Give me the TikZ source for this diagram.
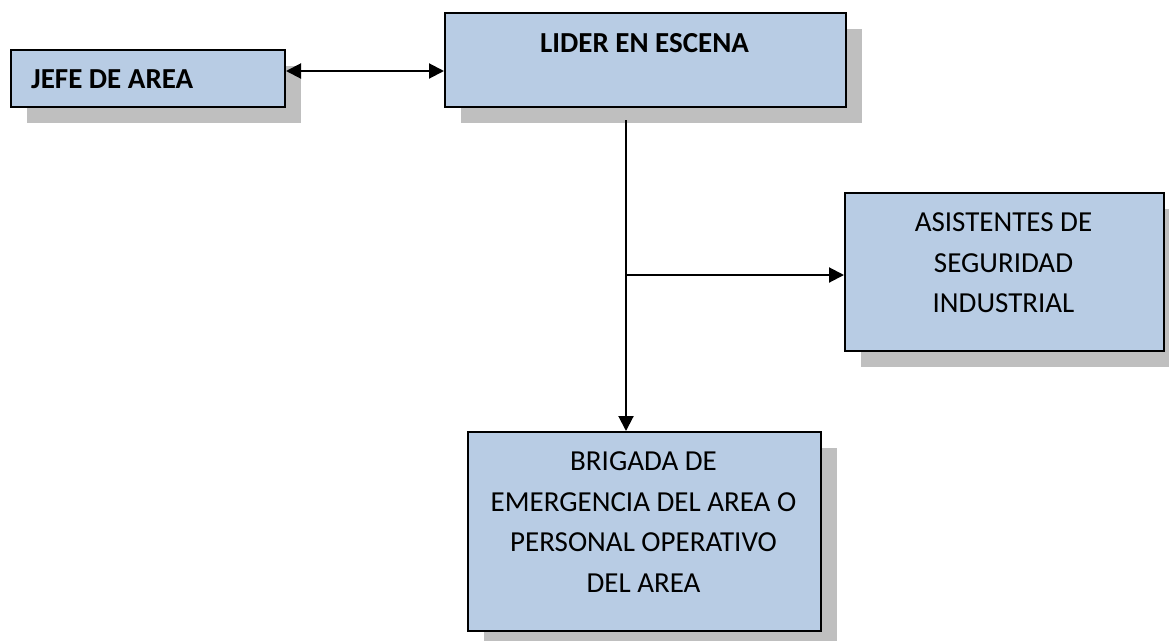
\documentclass[tikz,border=0pt]{standalone}
\usepackage{fontspec}
\setmainfont{Carlito}
\usetikzlibrary{arrows.meta,shadows}
\definecolor{boxblue}{HTML}{B8CCE4}
\definecolor{shadowgray}{HTML}{BFBFBF}
\begin{document}
\begin{tikzpicture}[x=1pt,y=-1pt,
  box/.style={draw=black, line width=2pt, fill=boxblue, inner sep=0pt, anchor=north west,
    drop shadow={shadow xshift=16pt, shadow yshift=-16pt, fill=shadowgray, opacity=1}},
  txt/.style={font=\fontsize{29}{40.5}\selectfont, align=center, inner sep=0pt},
  txtb/.style={font=\fontsize{29}{40.5}\selectfont\bfseries, align=center, inner sep=0pt},
  conn/.style={line width=2pt, -{Triangle[length=15pt,width=15pt]}},
  biconn/.style={line width=2pt, {Triangle[length=15pt,width=15pt]}-{Triangle[length=15pt,width=15pt]}},
]
\useasboundingbox (0,0) rectangle (1169,640);
% boxes
\node[box, minimum width=274pt, minimum height=57pt] (jefe) at (10,49) {};
\node[box, minimum width=401pt, minimum height=94pt] (lider) at (444,12) {};
\node[box, minimum width=319pt, minimum height=158pt] (asis) at (844,192) {};
\node[box, minimum width=353pt, minimum height=199pt] (brig) at (467,431) {};
% texts
\node[txtb, anchor=west] (jefet) at (31,79) {JEFE DE AREA};
\node[txtb] (lidert) at (644.5,43) {LIDER EN ESCENA};
\node[txt] (asist) at (1003.5,263) {ASISTENTES DE\\SEGURIDAD\\INDUSTRIAL};
\node[txt] (brigt) at (643.5,522) {BRIGADA DE\\EMERGENCIA DEL AREA O\\PERSONAL OPERATIVO\\DEL AREA};
% connectors
\coordinate (ja) at ([yshift=7.5pt]jefe.east);
\draw[biconn] (ja) -- (ja -| lider.west);
\coordinate (vtop) at ([xshift=-19.5pt,yshift=-12pt]lider.south);
\draw[conn] (vtop) -- (vtop |- brig.north);
\coordinate (aw) at ([yshift=-3pt]asis.west);
\coordinate (branch) at (vtop |- aw);
\draw[conn] (branch) -- (aw);
\end{tikzpicture}
\end{document}
